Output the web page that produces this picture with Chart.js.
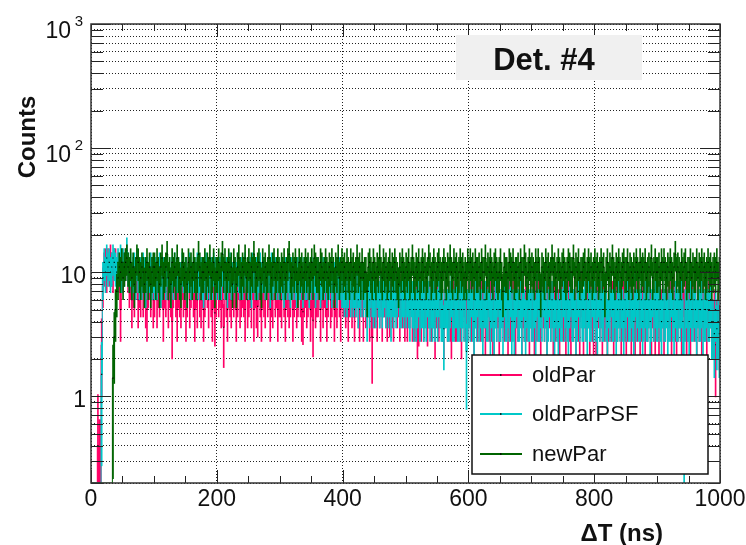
<!DOCTYPE html>
<html>
<head>
<meta charset="utf-8">
<title>Det. #4</title>
<script src="https://cdn.jsdelivr.net/npm/chart.js@4.4.1/dist/chart.umd.min.js"></script>
<style>
  html, body { margin: 0; padding: 0; background: #fff; }
  canvas { display: block; }
</style>
</head>
<body>
<canvas id="dtCanvas" width="746" height="545"></canvas>
<script>
// Delta-T spectra for detector 4, bin contents in 2 ns bins from 0 to 1000 ns
const binWidth = 2;

const oldPar = [
  0,0,0,0,0,0.4,0.2,0.2,2.6,8, 11,12,10,12,11,13,11,10,12,12, 10,11,10,5,12,10,11,12,13,10, 8,9,6,8,7,9,10,6,8,7, 9,7,8,6,5,8,9,7,10,6,
  7,9,6,8,7,10,8,5,8,7, 9,6,8,7,4,8,9,7,5,8, 7,6,9,7,8,5,7,10,6,8, 9,7,5,8,6,9,7,6,8,5, 7,9,8,6,9,7,5,8,4.7,7,
  9,7,8,6,8,3.6,9,7,5,8, 7,6,9,7,8,5,7,9,6,7, 8,7,5,9,6,7,8,6,9,5, 8,6,5.3,9,7,5,8,7,6,9, 7,8,5,7,6,9,7,8,5,7,
  7,6,9,7,5,8,7,6,7,9, 5,7,8,6,7,9,7,5,4.8,7, 8,6,7,9,5,7,4.1,8,6,7, 7,9,5,8,6,8,7,5,7,9, 6,7,8,5,7,6,9,7,5,8,
  7,8,6,7,5,7,9,6,7,5, 7,8,6,5,8,7,5,8,6,7, 7,5,7,3,8,6,7,5,7,6, 8,5,7,7,6,5,7,5.3,8,6, 5,8,7,6,7,5,7,6,8,5,
  6,5,7,6,8,5,6,5,7,4, 4.7,6,5,7,5,6,8,4.7,6,6, 5,7,6,4,6,7,5,6,7,5, 4,6,7,5,6,5,4,7,6,5, 5,7,6,5,4,6,7,5,6,5,
  6,7,5,6,4,6,7,5,6,5, 7,5,6,4,6,7,5,6,5,4, 7,6,5,6,4,5,7,6,5,6, 7,4,6,5,5,7,6,4,6,5, 6,7,4,6,5,7,5,6,4,6,
  5,6,4,7,5,6,5,4,7,6, 5,6,4,7,6,5,6,4,7,5, 6,5,4,7,6,5,6,4,6,7, 5,4,6,5,7,4,6,5,4,7, 6,4,6,5,7,6,4,6,5,4,
  6,4,7,6,5,6,4,7,5,6, 4,5,7,5,6,4,5,7,5,6, 6,4,7,6,5,4,5,6,7,4, 6,5,4,7,5,6,4,5,7,6, 4,6,5,6,7,4,6,5,4,6,
  6,4,7,5,6,4,5,7,5,6, 6,4,6,7,5,4,5,6,6,4, 7,5,6,4,5,6,4,7,6,5, 6,4,6,5,7,4,6,5,6,4, 6,5,6,4,4,5,2.6,4,5,3.5
];

const oldParPSF = [
  0,0,0,0,0,0,0,0,1.5,9, 12,10,13,11,12,10,11,13,12,11, 10,12,11,13,10,12,11,12,15,11, 10,11,9,10,11,9,12,10,9,10, 9,11,10,8,10,9,10,11,9,10,
  9,10,9,10,11,8,9,10,10,9, 11,9,10,8,10,9,11,9,10,10, 9,9,11,10,9,10,8,10,11,9, 9,10,10,9,11,9,10,10,9,8, 10,11,9,10,9,10,9,11,10,9,
  10,9,10,9,11,10,9,10,8,10, 11,9,9,10,10,9,11,10,9,10, 9,10,11,9,10,9,10,8,11,10, 9,10,9,10,11,9,10,10,9,9, 10,10,8,11,9,10,10,9,10,9,
  9,10,9,8,10,9,10,9,8,10, 9,10,9,8,10,9,9,10,8,10, 9,9,10,8,9,10,9,10,8,9, 10,9,8,9,10,9,10,8,9,9, 10,8,9,9,10,8,9,10,9,8,
  8,7,8,7,8,9,7,8,7,8, 7,8,6,8,7,9,7,8,7,5, 7,6,8,7,6,7,6,8,7,6, 7,6,7,8,6,7,6,7,5,7, 6,7,6,7,8,6,6,7,6,7,
  6,7,6,5,7,6,5,6,5,6, 7,5,6,6,5,6,5,7,6,5, 6,5,6,5,7,5,7,6,5,5, 3.5,6,6,5,5,6,7,5,5,6, 6,5,5,6,5,6,5,6,2.3,5,
  6,5,7,5,4,6,5,7,5,6, 5,4,6,6,5,5,7,4,6,5, 4,6,5,7,5,5,6,4,7,5, 5,6,5,7,4,5,4,6,7,5, 5,6,4,7,5,4,6,5,5,6,
  5,5,6,4,7,5,5,6,5,7, 5,6,4,5,7,5,6,5,4,6, 5,4,6,5,5,7,5,6,5,4, 6,7,5,5,6,4,5,7,5,6, 5,5,6,5,4,6,5,5,7,5,
  6,5,4,7,5,6,5,5,7,5, 4,6,5,7,5,5,6,4,5,6, 5,6,5,4,6,5,7,5,5,6, 5,4,7,5,6,5,5,6,4,5, 6,5,5,6,4,5,7,5,6,5,
  5,6,5,4,6,5,5,6,4,5, 5,7,5,4,6,5,5,6,5,6, 4,1,5,6,5,4,6,5,5,6, 5,4,6,5,5,6,4,5,5,6, 5,5,6,4,4,3.2,5,3.5,4,3.2
];

const newPar = [
  0,0,0,0,0,0,0,0,0,0, 0,0,0,0,0,0,0,1.4,3,5, 7,9,11,10,12,9,11,12,13,11, 10,12,9,11,8,10,13,12,10,9, 11,10,8,10,12,9,11,8,10,11,
  11,9,12,10,8,11,13,9,10,11, 14,9,10,8,12,10,11,9,13,10, 9,8,12,11,9,10,8,12,10,11, 9,12,10,9,10,14,11,9,10,10, 12,9,11,10,13,9,10,12,8,10,
  10,12,9,11,14,10,12,9,10,12, 10,11,8,12,10,8,11,13,10,9, 11,10,13,9,10,12,9,11,10,14, 10,9,11,12,9,8,12,10,11,9, 10,13,10,9,11,12,9,10,12,10,
  9,11,10,12,9,10,12,14,10,9, 11,10,12,10,8,12,10,11,9,10, 12,10,11,9,10,12,9,13,11,10, 10,9,12,11,9,10,12,10,9,11, 10,12,10,8,11,10,13,9,10,12,
  10,11,9,12,10,9,12,10,11,9, 10,13,10,11,9,12,9,10,10,7, 11,12,10,9,12,10,9,11,10,13, 10,9,12,10,11,9,10,12,9,11, 10,12,10,9,8,11,10,12,10,9,
  11,10,12,9,10,13,10,9,11,10, 12,9,10,12,10,11,9,10,13,11, 9,10,12,10,9,11,12,10,9,10, 12,10,9,11,10,13,10,9,12,10, 11,9,10,12,10,11,9,10,9,12,
  10,12,10,11,9,12,10,10,11,9, 12,10,10,13,9,11,10,12,10,9, 11,12,10,9,10,12,9,7,11,10, 10,9,12,11,10,12,9,10,10,11, 9,12,10,10,13,11,9,10,12,10,
  11,10,9,12,10,12,10,7,11,10, 9,12,10,11,9,10,13,10,11,9, 10,12,10,9,11,12,10,9,10,12, 11,10,10,13,9,11,10,12,9,10, 10,11,12,9,10,12,10,11,9,10,
  12,10,11,9,10,12,10,11,7,10, 12,9,11,10,13,10,9,11,10,12, 10,9,11,12,10,10,12,9,11,10, 9,11,10,12,10,9,12,10,11,10, 12,9,10,11,10,13,9,10,12,10,
  10,11,9,12,10,12,10,9,11,10, 12,10,9,11,14,10,11,10,9,12, 10,11,12,9,10,10,12,9,11,10, 10,12,9,11,10,12,10,11,9,10, 12,10,11,9,10,11,10,12,9,10
];

const seriesNames = ['oldPar', 'oldParPSF', 'newPar'];
const seriesColors = ['#ff0066', '#00c8c8', '#006400'];

const xTicks = [0, 200, 400, 600, 800, 1000];
const xMinorStep = 50;
const yMin = 0.2;
const yMax = 1000;
const yDecades = [1, 10, 100, 1000];
const yDecadeLabels = [['1', ''], ['10', ''], ['10', '2'], ['10', '3']];

// log grid: every 1..9 multiple inside the range
const yGrid = [];
[0.1, 1, 10, 100].forEach(d => {
  for (let m = 1; m <= 9; m++) {
    const v = +(m * d).toPrecision(3);
    if (v >= yMin && v <= yMax) yGrid.push(v);
  }
});
yGrid.push(yMax);

const FONT = "'Liberation Sans', Arial, Helvetica, sans-serif";
const binCentre = i => (i + 0.5) * binWidth;

// bin contents as a step line; empty bins sit on the floor of the log axis
const contentPoints = counts => counts.map((c, i) => ({ x: binCentre(i), y: c > 0 ? c : yMin }));

// Poisson error bars, n +- sqrt(n)
const errorBars = counts => counts.map((c, i) => ({
  x: binCentre(i),
  y: c > 0 ? [Math.max(c - Math.sqrt(c), 0.05), c + Math.sqrt(c)] : null
}));

const datasets = [];
[oldPar, oldParPSF, newPar].forEach((counts, k) => {
  datasets.push({
    type: 'bar',
    label: seriesNames[k] + ' errors',
    data: errorBars(counts),
    backgroundColor: seriesColors[k],
    borderWidth: 0,
    barThickness: 1,
    grouped: false,
    order: 5 - 2 * k
  });
  datasets.push({
    type: 'line',
    label: seriesNames[k],
    data: contentPoints(counts),
    borderColor: seriesColors[k],
    borderWidth: 1,
    stepped: 'middle',
    tension: 0,
    fill: false,
    pointStyle: 'rect',
    pointRadius: counts.map(c => (c > 0 ? 0.8 : 0)),
    pointBackgroundColor: '#000',
    pointBorderWidth: 0,
    order: 4 - 2 * k
  });
});

const rootFrame = {
  id: 'rootFrame',
  afterDraw(chart) {
    const { ctx, chartArea: a, scales: { x, y } } = chart;
    ctx.save();

    // ticks pointing into the frame on all four sides
    ctx.strokeStyle = '#222';
    ctx.lineWidth = 1;
    ctx.beginPath();
    for (let v = xTicks[0]; v <= xTicks[xTicks.length - 1]; v += xMinorStep) {
      const px = Math.round(x.getPixelForValue(v)) + 0.5;
      const len = xTicks.includes(v) ? 13 : 7;
      ctx.moveTo(px, a.bottom); ctx.lineTo(px, a.bottom - len);
      ctx.moveTo(px, a.top); ctx.lineTo(px, a.top + len);
    }
    yGrid.forEach(v => {
      const py = Math.round(y.getPixelForValue(v)) + 0.5;
      const len = yDecades.includes(v) ? 20 : 12;
      ctx.moveTo(a.left, py); ctx.lineTo(a.left + len, py);
      ctx.moveTo(a.right, py); ctx.lineTo(a.right - len, py);
    });
    ctx.stroke();

    ctx.lineWidth = 1.5;
    ctx.strokeStyle = '#333';
    ctx.strokeRect(a.left, a.top, a.right - a.left, a.bottom - a.top);

    // tick labels
    ctx.fillStyle = '#111';
    ctx.textBaseline = 'alphabetic';
    ctx.font = '23px ' + FONT;
    ctx.textAlign = 'center';
    xTicks.forEach(v => ctx.fillText(String(v), x.getPixelForValue(v), a.bottom + 23));

    yDecades.forEach((v, i) => {
      const py = y.getPixelForValue(v);
      const [base, exp] = yDecadeLabels[i];
      ctx.textAlign = 'right';
      if (!exp) {
        ctx.font = '23px ' + FONT;
        ctx.fillText(base, a.left - 5, py + 11);
      } else {
        ctx.font = '15px ' + FONT;
        ctx.fillText(exp, a.left - 8, py + 2);
        ctx.font = '23px ' + FONT;
        ctx.fillText(base, a.left - 20, py + 13.5);
      }
    });

    // axis titles
    ctx.font = 'bold 24px ' + FONT;
    ctx.textAlign = 'right';
    ctx.fillText('\u0394T (ns)', 663, 541);
    ctx.save();
    ctx.translate(28, 137);
    ctx.rotate(-Math.PI / 2);
    ctx.textAlign = 'center';
    ctx.textBaseline = 'middle';
    ctx.fillText('Counts', 0, 0);
    ctx.restore();

    // detector tag
    ctx.fillStyle = '#f0f0f0';
    ctx.fillRect(456, 35, 186, 45);
    ctx.fillStyle = '#111';
    ctx.font = 'bold 31px ' + FONT;
    ctx.textAlign = 'center';
    ctx.fillText('Det. #4', 544, 70);

    // legend
    ctx.fillStyle = '#fff';
    ctx.fillRect(472, 355, 236, 119);
    ctx.lineWidth = 1.5;
    ctx.strokeStyle = '#111';
    ctx.strokeRect(472, 355, 236, 119);
    ctx.font = '22px ' + FONT;
    ctx.textAlign = 'left';
    [375, 414, 454].forEach((ly, k) => {
      ctx.strokeStyle = seriesColors[k];
      ctx.lineWidth = 1.8;
      ctx.beginPath();
      ctx.moveTo(480, ly); ctx.lineTo(522, ly);
      ctx.stroke();
      ctx.fillStyle = '#000';
      ctx.fillRect(500, ly - 0.75, 1.5, 1.5);
      ctx.fillStyle = '#111';
      ctx.fillText(seriesNames[k], 532, ly + 7);
    });

    ctx.restore();
  }
};

new Chart(document.getElementById('dtCanvas'), {
  type: 'line',
  data: { datasets },
  options: {
    responsive: false,
    animation: false,
    events: [],
    layout: { padding: { top: 24, right: 26, left: 0, bottom: 0 } },
    plugins: { legend: { display: false }, tooltip: { enabled: false } },
    scales: {
      x: {
        type: 'linear',
        min: xTicks[0],
        max: xTicks[xTicks.length - 1],
        offset: false,
        z: 1,
        afterBuildTicks: s => { s.ticks = xTicks.map(v => ({ value: v })); },
        afterFit: s => { s.height = 62; },
        ticks: { display: false, autoSkip: false },
        grid: { color: '#222', lineWidth: 1, drawTicks: false, offset: false },
        border: { display: false, dash: [1, 2] }
      },
      y: {
        type: 'logarithmic',
        min: yMin,
        max: yMax,
        z: 1,
        afterBuildTicks: s => { s.ticks = yGrid.map(v => ({ value: v })); },
        afterFit: s => { s.width = 91; },
        ticks: { display: false, autoSkip: false },
        grid: { color: '#222', lineWidth: 1, drawTicks: false },
        border: { display: false, dash: [1, 2] }
      }
    }
  },
  plugins: [rootFrame]
});
</script>
</body>
</html>
